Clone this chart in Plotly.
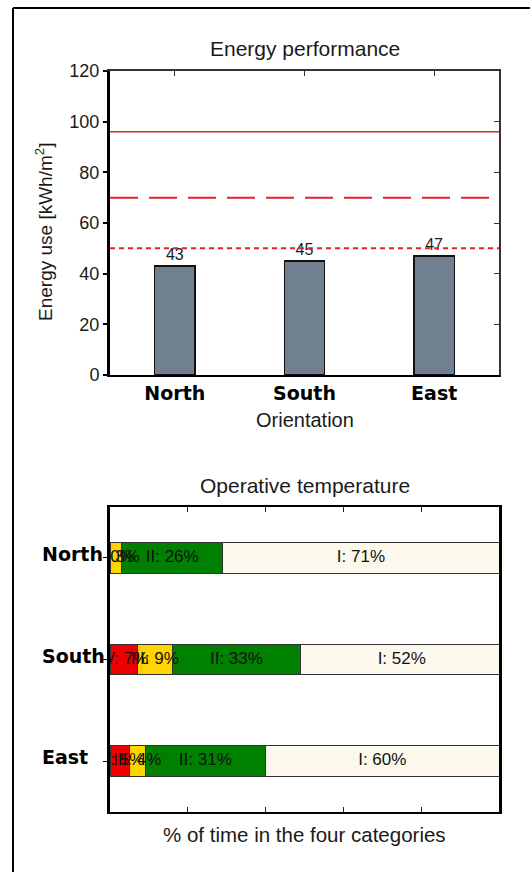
import plotly.graph_objects as go

W, H = 530, 872

# Annual energy use per facade orientation
orientations = ["North", "South", "East"]
energy_use = [43, 45, 47]

# Reference levels for the energy chart
ref_levels = [96, 70, 50]
ref_dashes = ["solid", "28px,11px", "5px,4px"]
ref_widths = [1.5, 2, 2]

# Share of time (%) in the four comfort categories
comfort_cats = ["IV", "III", "II", "I"]
share_iv = [0, 7, 5]
share_iii = [3, 9, 4]
share_ii = [26, 33, 31]
share_i = [71, 52, 60]
comfort_colors = ["#ee0000", "#ffd400", "#008000", "#fdf8ec"]

LIGHT = "Liberation Sans, Arial, sans-serif"
BOLD = "DejaVu Sans, Verdana, sans-serif"
INK = "#1a1a1a"


def px(x):
    return x / W


def py(y):
    return 1 - y / H


X_DOM = [px(110), px(499)]
TOP_DOM = [py(375), py(71)]
BOT_DOM = [py(812), py(507)]
X_MID = (X_DOM[0] + X_DOM[1]) / 2

fig = go.Figure()

# --- Energy performance -------------------------------------------------
fig.add_trace(go.Bar(
    x=orientations, y=energy_use, width=0.31,
    marker=dict(color="#708090", line=dict(color="#111111", width=1.5)),
    text=[str(v) for v in energy_use], textposition="outside",
    textfont=dict(family=LIGHT, size=16, color=INK), cliponaxis=False,
    xaxis="x", yaxis="y", showlegend=False, hoverinfo="skip",
))
# frame axes on the top/right of the energy chart
fig.add_trace(go.Scatter(x=[0], y=[0], mode="markers", marker=dict(opacity=0),
                         xaxis="x3", yaxis="y3", showlegend=False, hoverinfo="skip"))

for lvl, dash, lw in zip(ref_levels, ref_dashes, ref_widths):
    fig.add_shape(type="line", xref="x domain", yref="y", x0=0, x1=1,
                  y0=lvl, y1=lvl, line=dict(color="#e8222a", width=lw, dash=dash),
                  layer="above")

# --- Operative temperature ---------------------------------------------
shares = [share_iv, share_iii, share_ii, share_i]
for cat, vals, col in zip(comfort_cats, shares, comfort_colors):
    fig.add_trace(go.Bar(
        y=orientations, x=vals, orientation="h", width=0.3, name=cat,
        marker=dict(color=col, line=dict(color="#333333", width=1)),
        xaxis="x2", yaxis="y2", showlegend=False, hoverinfo="skip",
    ))

lab_x, lab_y, lab_t = [], [], []
for i, o in enumerate(orientations):
    cum = 0
    for cat, vals in zip(comfort_cats, shares):
        v = vals[i]
        lab_x.append(cum + v / 2)
        lab_y.append(o)
        lab_t.append(f"{cat}: {v}%")
        cum += v
fig.add_trace(go.Scatter(
    x=lab_x, y=lab_y, text=lab_t, mode="text", textposition="middle center",
    textfont=dict(family=LIGHT, size=17, color="#111111"), cliponaxis=True,
    xaxis="x2", yaxis="y2", showlegend=False, hoverinfo="skip",
))


def label(text, x, y, size=20, **kw):
    return dict(text=text, x=x, y=y, xref="paper", yref="paper", showarrow=False,
                xanchor="center", yanchor="middle",
                font=dict(family=LIGHT, size=size, color=INK), **kw)


annotations = [
    label("Energy performance", X_MID, py(48), size=21),
    label("Orientation", X_MID, py(420)),
    label("Energy use [kWh/m<sup>2</sup>]", px(44), py(232), size=19, textangle=-90),
    label("Operative temperature", X_MID, py(485), size=21),
    label("% of time in the four categories", X_MID, py(834), size=20.5),
]
for o in orientations:
    annotations.append(dict(
        text=o, x=px(40), xanchor="left", yanchor="middle", y=o, yref="y2",
        xref="paper", yshift=4, showarrow=False,
        font=dict(family=BOLD, size=19, color="#000000", weight="bold")))

# outer frame of the figure (top and left edges)
fig.add_shape(type="line", xref="paper", yref="paper", x0=px(13), x1=1.01,
              y0=py(8), y1=py(8), line=dict(color="black", width=2))
fig.add_shape(type="line", xref="paper", yref="paper", x0=px(13), x1=px(13),
              y0=py(8), y1=-0.01, line=dict(color="black", width=2))

fig.update_layout(
    width=W, height=H, margin=dict(l=0, r=0, t=0, b=0, pad=0, autoexpand=False),
    paper_bgcolor="white", plot_bgcolor="white", barmode="stack",
    showlegend=False, annotations=annotations,
    xaxis=dict(domain=X_DOM, anchor="y", type="category", range=[-0.5, 2.5],
               showline=True, linecolor="black", linewidth=2, ticks="",
               showgrid=False, zeroline=False, automargin=False,
               tickfont=dict(family=BOLD, size=19, color="#000000", weight="bold")),
    yaxis=dict(domain=TOP_DOM, anchor="x", range=[0, 120], dtick=20,
               showline=True, linecolor="black", linewidth=3,
               ticks="outside", ticklen=4, tickwidth=1.5, tickcolor="black",
               showgrid=False, zeroline=False, automargin=False,
               tickfont=dict(family=LIGHT, size=18, color=INK)),
    xaxis3=dict(overlaying="x", anchor="y", side="top", type="linear",
                range=[-0.5, 2.5], tickvals=[0, 1, 2], ticks="inside", ticklen=5,
                tickcolor="#333", showticklabels=False, showline=True,
                linecolor="#333", linewidth=2, showgrid=False, zeroline=False,
                automargin=False),
    yaxis3=dict(overlaying="y", anchor="x", side="right", range=[0, 120], dtick=20,
                ticks="inside", ticklen=5, tickcolor="#333", showticklabels=False,
                showline=True, linecolor="#333", linewidth=2, showgrid=False,
                zeroline=False, automargin=False),
    xaxis2=dict(domain=X_DOM, anchor="y2", range=[0, 100], dtick=20,
                ticks="inside", ticklen=5, tickcolor="#222", mirror="ticks",
                showline=True, linecolor="black", linewidth=2,
                showticklabels=False, showgrid=False, zeroline=False,
                automargin=False),
    yaxis2=dict(domain=BOT_DOM, anchor="x2", type="category",
                categoryarray=orientations, categoryorder="array",
                range=[2.5, -0.5], showline=True, linecolor="black", linewidth=3,
                mirror=True, ticks="outside", ticklen=4, tickcolor="black",
                showticklabels=False, showgrid=False, zeroline=False,
                automargin=False),
)

fig.write_html("out.html")
